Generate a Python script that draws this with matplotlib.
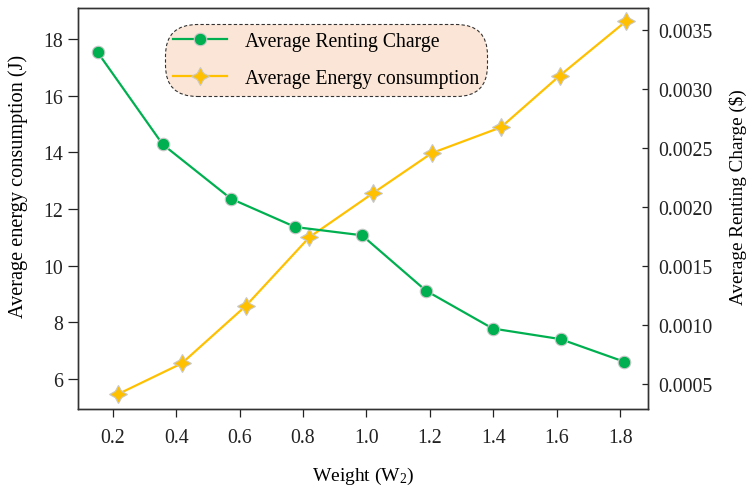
import numpy as np
import matplotlib
matplotlib.use('Agg')
import matplotlib.pyplot as plt

plt.rcParams['font.family'] = ['Liberation Serif', 'DejaVu Serif']
plt.rcParams['mathtext.fontset'] = 'custom'
plt.rcParams['mathtext.rm'] = 'Liberation Serif'

# Average Renting Charge ($) - right axis
charge_w = [0.153, 0.358, 0.573, 0.776, 0.986, 1.188, 1.398, 1.612, 1.811]
charge = [0.00331, 0.00253, 0.00207, 0.00183, 0.00176, 0.00129, 0.00097, 0.00088, 0.00069]

# Average Energy consumption (J) - left axis
energy_w = [0.218, 0.418, 0.620, 0.820, 1.020, 1.206, 1.424, 1.609, 1.819]
energy = [5.47, 6.55, 8.58, 11.0, 12.55, 13.97, 14.88, 16.7, 18.63]

x_ticks = [0.2, 0.4, 0.6, 0.8, 1.0, 1.2, 1.4, 1.6, 1.8]
left_ticks = [6, 8, 10, 12, 14, 16, 18]
right_ticks = [0.0005, 0.0010, 0.0015, 0.0020, 0.0025, 0.0030, 0.0035]

green = '#00B050'
gold = '#FFC000'
edge = '#C8C8C8'

fig = plt.figure(figsize=(7.51, 4.89), dpi=100)
ax = fig.add_axes([0.1035, 0.1616, 0.7595, 0.8194])
ax2 = ax.twinx()

l2, = ax.plot(energy_w, energy, color=gold, lw=1.6, marker=(4, 1, 0), ms=13,
              mfc=gold, mec=edge, mew=0.8, label='Average Energy consumption')
l1, = ax2.plot(charge_w, charge, color=green, lw=1.6, marker='o', ms=9,
               mfc=green, mec=edge, mew=0.8, label='Average Renting Charge')

ax.set_xlim(0.09, 1.888)
ax.set_ylim(4.94, 19.08)
ax2.set_ylim(0.000288, 0.003684)

ax.set_xticks(x_ticks)
ax.set_xticklabels([f'{v:.1f}' for v in x_ticks])
ax.set_yticks(left_ticks)
ax2.set_yticks(right_ticks)
ax2.set_yticklabels([f'{v:.4f}' for v in right_ticks])

ax.tick_params(axis='y', labelsize=14.3, direction='out', length=7.5, width=0.9,
               colors='#222222', pad=3)
ax.tick_params(axis='x', labelsize=14.3, direction='out', length=6, width=0.9,
               colors='#222222', pad=8)
ax2.tick_params(axis='y', labelsize=14.3, direction='in', length=4.5, width=0.9,
                colors='#222222', pad=7.5)
for a in (ax, ax2):
    for s in a.spines.values():
        s.set_color('#333333')
        s.set_linewidth(1.0)

ax.set_xlabel('Weight (W$\\mathregular{_2}$)', fontsize=14)
ax.xaxis.set_label_coords(0.5, -0.14)
ax.set_ylabel('Average energy consumption (J)', fontsize=14.6)
ax.yaxis.set_label_coords(-0.087, 0.557)
ax2.set_ylabel('Average Renting Charge ($)', fontsize=13.8)
ax2.yaxis.set_label_coords(1.141, 0.53)

leg = ax2.legend(handles=[l1, l2], loc='upper left', bbox_to_anchor=(0.153, 0.961),
                 fontsize=14.2, frameon=True, fancybox=True, handlelength=2.7,
                 handletextpad=0.93, borderpad=0.42, labelspacing=0.9,
                 borderaxespad=0)
frame = leg.get_frame()
frame.set_facecolor('#FBE5D6')
frame.set_edgecolor('#333333')
frame.set_linestyle((0, (3, 2)))
frame.set_linewidth(0.8)
frame.set_alpha(1)
frame.set_boxstyle('round,pad=0.0,rounding_size=1.6')

fig.savefig('out.png', dpi=100)
